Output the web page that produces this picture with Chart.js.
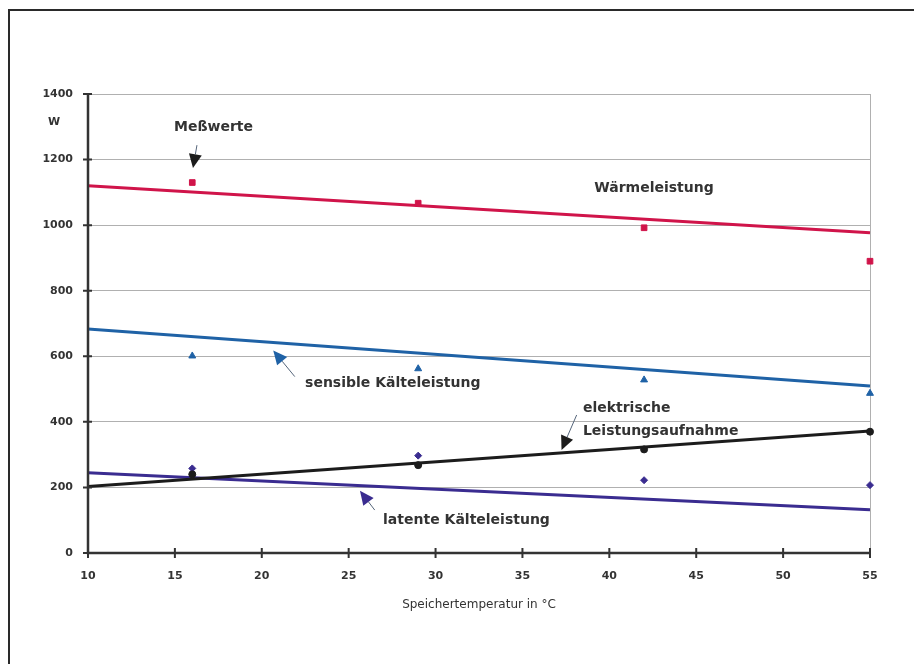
<!DOCTYPE html>
<html lang="de">
<head>
  <meta charset="UTF-8" />
  <title>Speichertemperatur</title>
  <script src="https://cdn.jsdelivr.net/npm/chart.js"></script>
  <style>
    html, body { margin: 0; padding: 0; background: #fff; }
    #wrap { width: 914px; height: 664px; position: relative; }
  </style>
</head>
<body>
  <div id="wrap"><canvas id="chart"></canvas></div>
  <script>
    // measured values (x = Speichertemperatur in °C)
    const temps = [16, 29, 42, 55];
    const waerme = [1130, 1067, 992, 890];
    const sensibel = [601, 562, 528, 487];
    const elektrisch = [240, 268, 316, 370];
    const latent = [258, 297, 222, 207];

    // trend lines, endpoints at x = 10 and x = 55
    const trendX = [10, 55];
    const waermeTrend = [1120, 977];
    const sensibelTrend = [683, 509];
    const elektrischTrend = [203, 372];
    const latentTrend = [245, 132];

    const xTicks = [10, 15, 20, 25, 30, 35, 40, 45, 50, 55];
    const yTicks = [0, 200, 400, 600, 800, 1000, 1200, 1400];

    const RED = "#d0144a", BLUE = "#1f62a6", BLACK = "#1c1c1c", PURPLE = "#3a2c90";
    const TXT = "#333";
    const FONT = "'DejaVu Sans', Verdana, sans-serif";

    // text labels and arrows, in data units
    const labels = [
      { text: "Meßwerte", x: 17.22, y: 1299, align: "center" },
      { text: "Wärmeleistung", x: 42.57, y: 1113, align: "center" },
      { text: "sensible Kälteleistung", x: 22.49, y: 518, align: "left" },
      { text: "elektrische", x: 38.48, y: 442, align: "left" },
      { text: "Leistungsaufnahme", x: 38.48, y: 372, align: "left" },
      { text: "latente Kälteleistung", x: 26.98, y: 101, align: "left" }
    ];
    const arrows = [
      { from: [16.27, 1244], to: [16.04, 1174], color: BLACK },
      { from: [21.9, 538], to: [20.66, 618], color: BLUE },
      { from: [38.12, 421], to: [37.25, 314], color: BLACK },
      { from: [26.5, 131], to: [25.65, 190], color: PURPLE }
    ];

    const pts = ys => temps.map((t, i) => ({ x: t, y: ys[i] }));
    const trend = ys => trendX.map((t, i) => ({ x: t, y: ys[i] }));

    const frameAndNotes = {
      id: "frameAndNotes",
      afterDraw(chart) {
        const ctx = chart.ctx;
        const xs = chart.scales.x, ys = chart.scales.y;
        const a = chart.chartArea;
        ctx.save();
        // outer frame (top and left)
        ctx.strokeStyle = "#2a2a2a";
        ctx.lineWidth = 2;
        ctx.beginPath();
        ctx.moveTo(9, 664); ctx.lineTo(9, 10); ctx.lineTo(914, 10);
        ctx.stroke();
        // axes with crossing ticks
        ctx.strokeStyle = "#333";
        ctx.lineWidth = 2.5;
        ctx.beginPath();
        ctx.moveTo(a.left, a.top); ctx.lineTo(a.left, a.bottom); ctx.lineTo(a.right, a.bottom);
        ctx.stroke();
        ctx.lineWidth = 2;
        ctx.beginPath();
        yTicks.forEach(v => {
          const y = ys.getPixelForValue(v);
          ctx.moveTo(a.left - 5, y); ctx.lineTo(a.left + 4, y);
        });
        xTicks.forEach(v => {
          const x = xs.getPixelForValue(v);
          ctx.moveTo(x, a.bottom - 5); ctx.lineTo(x, a.bottom + 5);
        });
        ctx.stroke();
        // unit
        ctx.fillStyle = TXT;
        ctx.font = "bold 11px " + FONT;
        ctx.textAlign = "center";
        ctx.textBaseline = "middle";
        ctx.fillText("W", 54, ys.getPixelForValue(1315));
        // labels
        ctx.font = "bold 14px " + FONT;
        labels.forEach(l => {
          ctx.textAlign = l.align;
          ctx.fillText(l.text, xs.getPixelForValue(l.x), ys.getPixelForValue(l.y));
        });
        // arrows
        arrows.forEach(ar => {
          const x1 = xs.getPixelForValue(ar.from[0]), y1 = ys.getPixelForValue(ar.from[1]);
          const x2 = xs.getPixelForValue(ar.to[0]), y2 = ys.getPixelForValue(ar.to[1]);
          const ang = Math.atan2(y2 - y1, x2 - x1);
          const len = 14, half = 6.5;
          const bx = x2 - len * Math.cos(ang), by = y2 - len * Math.sin(ang);
          ctx.strokeStyle = "#55657a";
          ctx.lineWidth = 1;
          ctx.beginPath(); ctx.moveTo(x1, y1); ctx.lineTo(bx, by); ctx.stroke();
          ctx.fillStyle = ar.color;
          ctx.beginPath();
          ctx.moveTo(x2, y2);
          ctx.lineTo(bx + half * Math.sin(ang), by - half * Math.cos(ang));
          ctx.lineTo(bx - half * Math.sin(ang), by + half * Math.cos(ang));
          ctx.closePath();
          ctx.fill();
        });
        ctx.restore();
      }
    };

    const lineSet = (data, color) => ({
      type: "line", data, borderColor: color, borderWidth: 3,
      pointRadius: 0, fill: false, tension: 0, clip: false
    });
    const pointSet = (data, color, style, r) => ({
      type: "scatter", data, backgroundColor: color, borderColor: color,
      pointStyle: style, pointRadius: r, borderWidth: 1, clip: false
    });

    new Chart(document.getElementById("chart"), {
      type: "scatter",
      data: {
        datasets: [
          pointSet(pts(waerme), RED, "rect", 4),
          pointSet(pts(sensibel), BLUE, "triangle", 4),
          pointSet(pts(elektrisch), BLACK, "circle", 3.5),
          pointSet(pts(latent), PURPLE, "rectRot", 3.5),
          lineSet(trend(waermeTrend), RED),
          lineSet(trend(sensibelTrend), BLUE),
          lineSet(trend(elektrischTrend), BLACK),
          lineSet(trend(latentTrend), PURPLE)
        ]
      },
      options: {
        responsive: true,
        maintainAspectRatio: false,
        animation: false,
        layout: { padding: { left: 0, right: 44, top: 94, bottom: 52 } },
        plugins: { legend: { display: false }, tooltip: { enabled: false } },
        scales: {
          x: {
            type: "linear", min: 10, max: 55,
            afterFit: s => { s.height = 59; },
            afterBuildTicks: s => { s.ticks = xTicks.map(v => ({ value: v })); },
            border: { display: false },
            grid: {
              drawTicks: false,
              color: c => (c.tick && c.tick.value === 55 ? "#b0b0b0" : "transparent"),
              lineWidth: 1
            },
            ticks: {
              padding: 17, color: TXT,
              callback: v => String(v),
              font: { family: FONT, size: 11, weight: "bold" }
            },
            title: {
              display: true, text: "Speichertemperatur in °C", color: TXT,
              padding: { top: 4, bottom: 0 },
              font: { family: FONT, size: 12 }
            }
          },
          y: {
            min: 0, max: 1400,
            afterFit: s => { s.width = 88; },
            afterBuildTicks: s => { s.ticks = yTicks.map(v => ({ value: v })); },
            border: { display: false },
            grid: { drawTicks: false, color: "#b0b0b0", lineWidth: 1 },
            ticks: {
              padding: 15, color: TXT,
              callback: v => String(v),
              font: { family: FONT, size: 11, weight: "bold" }
            }
          }
        }
      },
      plugins: [frameAndNotes]
    });
  </script>
</body>
</html>
